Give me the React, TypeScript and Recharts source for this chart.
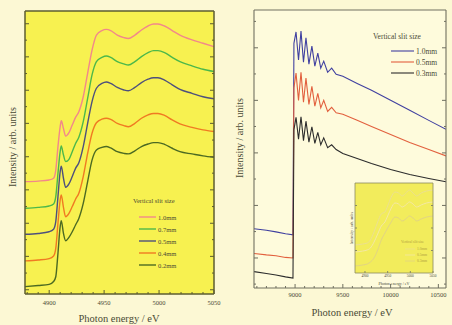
import React from "react";
import { LineChart, Line, XAxis, YAxis, CartesianGrid } from "recharts";

// left panel (XANES), photon energy in eV
const energyL = [4878, 4890, 4900, 4904, 4906, 4908, 4910, 4911, 4913, 4915, 4918, 4921, 4924, 4927, 4931, 4935, 4939, 4943, 4948, 4952, 4956, 4962, 4968, 4972, 4978, 4984, 4990, 4995, 4999, 5005, 5012, 5019, 5030, 5040, 5050];
const slit10L = [39.7, 39.9, 40.3, 40.9, 43.8, 52.1, 59.1, 61.2, 58.5, 55.8, 57.0, 59.7, 62.4, 64.4, 69.7, 78.0, 86.2, 91.5, 93.1, 93.5, 93.1, 91.5, 90.6, 90.3, 91.5, 93.3, 94.7, 95.4, 95.4, 94.7, 93.1, 91.5, 89.8, 88.6, 87.4];
const slit07L = [30.3, 30.6, 31.1, 31.8, 34.4, 42.6, 50.3, 52.3, 49.1, 46.8, 47.6, 50.3, 53.2, 55.4, 60.9, 69.1, 77.4, 82.1, 83.6, 84.1, 83.6, 82.1, 81.3, 80.9, 82.1, 83.9, 85.3, 86.0, 86.0, 85.3, 83.6, 82.1, 80.6, 79.4, 78.6];
const slit05L = [21.1, 21.4, 22.0, 22.9, 25.6, 34.4, 43.2, 45.2, 40.9, 37.7, 38.9, 41.5, 44.4, 46.4, 52.1, 60.3, 68.0, 72.7, 74.4, 74.9, 74.4, 73.0, 72.1, 71.8, 73.0, 74.7, 75.9, 76.4, 76.4, 75.6, 73.9, 72.3, 70.9, 69.7, 69.0];
const slit04L = [11.7, 12.0, 12.5, 13.4, 16.1, 25.0, 33.2, 35.0, 30.6, 27.3, 28.5, 30.9, 33.5, 35.6, 41.5, 49.7, 56.8, 60.5, 61.8, 62.1, 61.7, 60.3, 59.5, 59.1, 60.3, 62.1, 63.3, 63.8, 63.8, 63.1, 61.5, 60.1, 58.9, 58.0, 57.4];
const slit02L = [2.6, 3.0, 3.4, 4.4, 6.1, 14.4, 23.8, 25.9, 21.4, 18.8, 20.0, 22.0, 24.4, 26.7, 32.0, 39.7, 47.3, 50.9, 51.8, 52.1, 51.6, 50.3, 49.7, 49.5, 50.6, 52.1, 53.0, 53.5, 53.5, 52.9, 51.5, 50.3, 49.5, 48.8, 48.3];
const namesL = ["1.0mm", "0.7mm", "0.5mm", "0.4mm", "0.2mm"];
const colorsL = ["#f2888a", "#4cb84a", "#4e507c", "#f07a22", "#4c6a22"];

// right panel (EXAFS region)
const energyR = [8570, 8700, 8800, 8900, 8978, 8988, 9010, 9036, 9062, 9088, 9114, 9145, 9176, 9207, 9238, 9269, 9300, 9341, 9383, 9430, 9500, 9650, 9800, 10000, 10200, 10400, 10580];
const slit10R = [21.3, 20.8, 20.2, 19.5, 19.1, 88.0, 92.1, 82.0, 92.4, 81.2, 90.0, 80.5, 87.0, 79.8, 84.5, 79.1, 81.6, 77.6, 79.1, 76.9, 76.2, 73.6, 71.1, 67.5, 63.9, 60.3, 57.1];
const slit05R = [12.4, 11.9, 11.6, 11.0, 10.8, 72.0, 77.3, 67.5, 77.6, 66.8, 75.5, 66.0, 72.5, 65.4, 70.0, 64.8, 67.5, 63.5, 65.0, 63.0, 62.5, 60.3, 58.1, 55.2, 52.3, 49.8, 47.5];
const slit03R = [5.9, 5.2, 4.7, 4.0, 3.6, 57.0, 61.4, 53.5, 61.6, 53.0, 60.0, 52.5, 58.0, 52.0, 56.0, 51.5, 54.0, 50.5, 51.5, 49.8, 48.4, 46.6, 44.8, 42.6, 40.8, 39.4, 38.2];
const namesR = ["1.0mm", "0.5mm", "0.3mm"];
const colorsR = ["#4040a0", "#e2603e", "#2c2c2c"];

// inset
const energyI = [4878, 4895, 4905, 4912, 4920, 4928, 4936, 4944, 4950, 4958, 4966, 4974, 4982, 4990, 4998, 5006, 5014, 5024, 5036, 5050];
const insetA = [31.1, 32.2, 33.3, 36.7, 45.6, 56.7, 65.6, 67.8, 74.4, 84.4, 90.0, 88.9, 85.6, 88.9, 92.2, 88.9, 85.6, 88.9, 91.1, 92.2];
const insetB = [23.3, 24.4, 25.6, 27.8, 34.4, 43.3, 52.2, 56.7, 63.3, 72.2, 77.8, 76.7, 73.3, 75.6, 78.9, 76.7, 73.3, 75.6, 77.8, 78.9];
const insetC = [7.8, 8.9, 10.0, 12.2, 16.7, 25.6, 36.7, 44.4, 50.0, 56.7, 62.2, 61.1, 57.8, 60.0, 63.3, 61.1, 57.8, 60.0, 62.2, 63.3];
const colorsI = ["#ece090", "#f4e8a4", "#e2d484"];

// ticks
const ticksLX = [4900, 4950, 5000, 5050];
const minorLX = [4880, 4890, 4910, 4920, 4930, 4940, 4960, 4970, 4980, 4990, 5010, 5020, 5030, 5040];
const ticksLY = [1.5, 13.3, 25, 36.8, 48.5, 60.3, 72, 83.8, 95.5];
const minorLY = [7.4, 19.2, 30.9, 42.7, 54.4, 66.2, 77.9, 89.7];
const ticksRX = [9000, 9500, 10000, 10500];
const minorRX = [8600, 8700, 8800, 8900, 9100, 9200, 9300, 9400, 9600, 9700, 9800, 9900, 10100, 10200, 10300, 10400];
const ticksRY = [10.8, 29.7, 48.6, 67.5, 86.4];
const minorRY = [1.4, 20.3, 39.2, 58.1, 77, 95.9];

const PAGE = "#fcf8d4";
const FONT = "'Liberation Serif', 'DejaVu Serif', serif";
const TEXT = "#4a4a34";

type Side = "bottom" | "top" | "left" | "right";

// draws inward tick marks (long for majors) and labels for the bottom majors
function makeTick(side: Side, majors: number[], big: number, small: number, color: string, fs = 0, gap = 0) {
  return (props: any) => {
    const { x, y, payload } = props;
    const v = payload.value;
    const major = majors.includes(v);
    const len = major ? big : small;
    let l;
    if (side === "bottom") l = <line x1={x} x2={x} y1={y} y2={y - len} stroke={color} />;
    else if (side === "top") l = <line x1={x} x2={x} y1={y} y2={y + len} stroke={color} />;
    else if (side === "left") l = <line x1={x} x2={x + len} y1={y} y2={y} stroke={color} />;
    else l = <line x1={x} x2={x - len} y1={y} y2={y} stroke={color} />;
    return (
      <g>
        {l}
        {side === "bottom" && major && fs > 0 ? (
          <text x={x} y={y + gap} fontSize={fs} textAnchor="middle" dominantBaseline="hanging" fill={TEXT} fontFamily={FONT}>{v}</text>
        ) : null}
      </g>
    );
  };
}

function frame(xDomain: number[], xMajor: number[], xMinor: number[], yMajor: number[], yMinor: number[], color: string, fs: number, gap: number, big = 4, small = 2, sw = 1.3) {
  const xt = [...xMajor, ...xMinor].sort((p, q) => p - q);
  const yt = [...yMajor, ...yMinor].sort((p, q) => p - q);
  const al = { stroke: color, strokeWidth: sw };
  const xc = { type: "number" as const, domain: xDomain, allowDataOverflow: true, interval: 0 as const, ticks: xt, height: 1, tickLine: false, tickSize: 0, tickMargin: 0, axisLine: al };
  const yc = { type: "number" as const, domain: [0, 100], allowDataOverflow: true, interval: 0 as const, ticks: yt, width: 1, tickLine: false, tickSize: 0, tickMargin: 0, axisLine: al };
  return [
    <XAxis key="xb" xAxisId="main" dataKey="e" {...xc} tick={makeTick("bottom", xMajor, big, small, color, fs, gap)} />,
    <XAxis key="xt" xAxisId="top" orientation="top" {...xc} tick={makeTick("top", xMajor, big, small, color)} />,
    <YAxis key="yl" yAxisId="main" {...yc} tick={makeTick("left", yMajor, big, small, color)} />,
    <YAxis key="yr" yAxisId="right" orientation="right" {...yc} tick={makeTick("right", yMajor, big, small, color)} />,
  ];
}

export default function App() {
  const leftRows = energyL.map((e, i) => ({ e, a: slit10L[i], b: slit07L[i], c: slit05L[i], d: slit04L[i], f: slit02L[i] }));
  const rightRows = energyR.map((e, i) => ({ e, a: slit10R[i], b: slit05R[i], c: slit03R[i] }));
  const insetRows = energyI.map((e, i) => ({ e, a: insetA[i], b: insetB[i], c: insetC[i] }));
  const keysL = ["a", "b", "c", "d", "f"];
  const keysR = ["a", "b", "c"];

  return (
    <div style={{ position: "absolute", left: 0, top: 0, width: 452, height: 325, overflow: "hidden", background: PAGE, fontFamily: FONT }}>
      <div style={{ position: "absolute", left: 0, top: 0 }}>
        <LineChart width={226} height={325} data={leftRows} margin={{ top: 10, right: 11, bottom: 30, left: 24 }}>
          <CartesianGrid xAxisId="main" yAxisId="main" fill="#f7f150" stroke="none" horizontal={false} vertical={false} />
          {frame([4878, 5050], ticksLX, minorLX, ticksLY, minorLY, "#5c5c30", 6.5, 6, 4, 2, 1.5)}
          {keysL.map((k, i) => (
            <Line key={k} xAxisId="main" yAxisId="main" type="monotone" dataKey={k} stroke={colorsL[i]} strokeWidth={1.4} dot={false} isAnimationActive={false} />
          ))}
        </LineChart>
      </div>

      <div style={{ position: "absolute", left: 226, top: 0 }}>
        <LineChart width={226} height={325} data={rightRows} margin={{ top: 9, right: 5, bottom: 36, left: 27 }}>
          <CartesianGrid xAxisId="main" yAxisId="main" fill="#fefbdc" stroke="none" horizontal={false} vertical={false} />
          {frame([8570, 10580], ticksRX, minorRX, ticksRY, minorRY, "#707060", 6.5, 4, 4, 2, 1.1)}
          {keysR.map((k, i) => (
            <Line key={k} xAxisId="main" yAxisId="main" type="linear" dataKey={k} stroke={colorsR[i]} strokeWidth={1.1} dot={false} isAnimationActive={false} />
          ))}
        </LineChart>
      </div>

      <div style={{ position: "absolute", left: 340, top: 178 }}>
        <LineChart width={100} height={115} data={insetRows} margin={{ top: 4, right: 6, bottom: 19, left: 14 }}>
          <CartesianGrid xAxisId="main" yAxisId="main" fill="#f2ec5c" stroke="none" horizontal={false} vertical={false} />
          {frame([4878, 5050], ticksLX, [], [25, 50, 75], [], "#8a8a60", 3.5, 2, 2, 1, 0.8)}
          {keysR.map((k, i) => (
            <Line key={k} xAxisId="main" yAxisId="main" type="monotone" dataKey={k} stroke={colorsI[i]} strokeWidth={1} dot={false} isAnimationActive={false} />
          ))}
        </LineChart>
      </div>

      <svg width={452} height={325} style={{ position: "absolute", left: 0, top: 0, pointerEvents: "none" }} fontFamily={FONT} fill={TEXT}>
        <text x={12} y={147} fontSize={10} textAnchor="middle" dominantBaseline="central" transform="rotate(-90 12 147)">Intensity / arb. units</text>
        <text x={119} y={322} fontSize={10.5} textAnchor="middle">Photon energy / eV</text>
        <text x={239} y={138} fontSize={10} textAnchor="middle" dominantBaseline="central" transform="rotate(-90 239 138)">Intensity / arb. units</text>
        <text x={352} y={316} fontSize={10.5} textAnchor="middle">Photon energy / eV</text>

        <text x={133} y={203} fontSize={6.5}>Vertical slit size</text>
        {namesL.map((n, i) => (
          <g key={n}>
            <line x1={139} x2={156} y1={217 + i * 12} y2={217 + i * 12} stroke={colorsL[i]} strokeWidth={1.4} />
            <text x={158} y={219.5 + i * 12} fontSize={6.5}>{n}</text>
          </g>
        ))}

        <text x={373} y={39} fontSize={7.5}>Vertical slit size</text>
        {namesR.map((n, i) => (
          <g key={n}>
            <line x1={391} x2={414} y1={51 + i * 11} y2={51 + i * 11} stroke={colorsR[i]} strokeWidth={1.1} />
            <text x={416} y={53.5 + i * 11} fontSize={7.5}>{n}</text>
          </g>
        ))}

        <text x={351} y={228} fontSize={4} textAnchor="middle" dominantBaseline="central" transform="rotate(-90 351 228)">Intensity / arb. units</text>
        <text x={394} y={285} fontSize={4} textAnchor="middle">Photon energy / eV</text>
        <text x={401} y={243} fontSize={3.6} fill="#b0a040">Vertical slit size</text>
        {namesR.map((n, i) => (
          <g key={n}>
            <line x1={405} x2={415} y1={249 + i * 6} y2={249 + i * 6} stroke={colorsI[i]} strokeWidth={0.8} />
            <text x={417} y={250.3 + i * 6} fontSize={3.6} fill="#b0a040">{n}</text>
          </g>
        ))}
      </svg>
    </div>
  );
}
